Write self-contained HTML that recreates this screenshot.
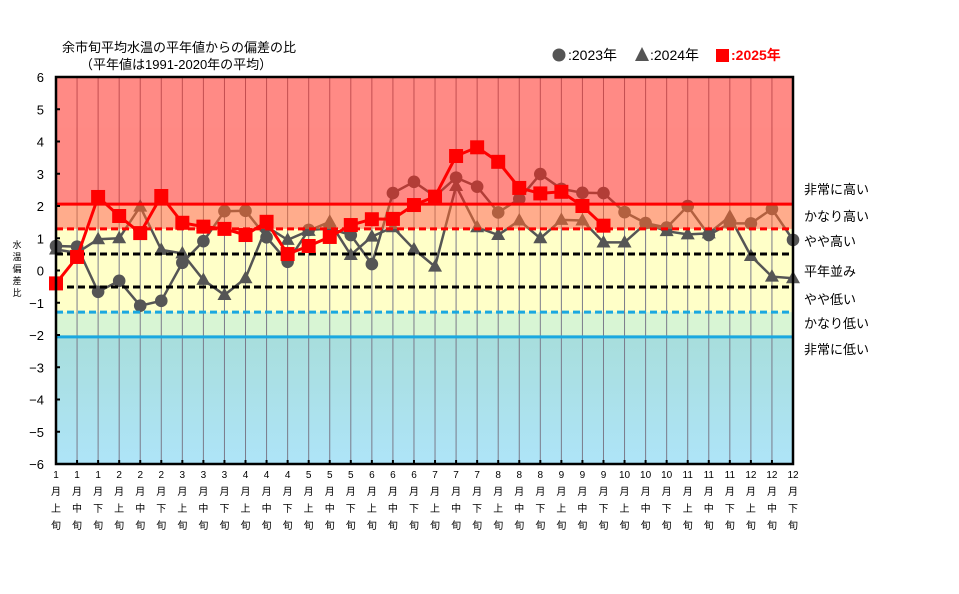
<!DOCTYPE html>
<html><head><meta charset="utf-8"><style>
html,body{margin:0;padding:0;background:#fff;}
svg{display:block;font-family:"Liberation Sans","Noto Sans CJK JP",sans-serif;}
</style></head><body>
<svg id="s" width="959" height="594" xmlns="http://www.w3.org/2000/svg">
<defs>
<linearGradient id="gb" x1="0" y1="0" x2="0" y2="1"><stop offset="0" stop-color="#a8dedc"/><stop offset="1" stop-color="#aee4f8"/></linearGradient>
</defs>
<g id="g"></g>
</svg>
<script>
var X0=56,X1=793,Y0=270.5,K=32.25,N=36,dx=(X1-X0)/35;
function y(v){return Y0-v*K}function x(i){return X0+i*dx}
var d23=[0.76,0.74,-0.66,-0.32,-1.09,-0.94,0.24,0.91,1.84,1.85,1.03,0.27,1.26,1.3,1.1,0.2,2.4,2.75,2.3,2.88,2.6,1.8,2.22,2.99,2.53,2.41,2.4,1.81,1.47,1.33,2.0,1.1,1.46,1.46,1.91,0.95];
var d24=[0.65,0.55,0.97,1.0,1.98,0.64,0.53,-0.29,-0.76,-0.24,1.36,0.95,1.23,1.51,0.48,1.05,1.34,0.66,0.12,2.62,1.34,1.1,1.55,1.0,1.57,1.55,0.87,0.87,1.45,1.22,1.12,1.15,1.67,0.45,-0.19,-0.24];
var d25=[-0.4,0.42,2.28,1.69,1.16,2.31,1.48,1.36,1.29,1.1,1.51,0.51,0.76,1.04,1.41,1.59,1.6,2.03,2.29,3.55,3.82,3.37,2.56,2.39,2.44,2.0,1.39];
var h='',w=X1-X0;
h+='<rect x="'+X0+'" y="'+y(6)+'" width="'+w+'" height="'+(y(-6)-y(6))+'" fill="#fff"/>';
h+='<rect x="'+X0+'" y="'+y(1.29)+'" width="'+w+'" height="'+(y(-1.29)-y(1.29))+'" fill="#ffffc8"/>';
h+='<rect x="'+X0+'" y="'+y(-1.29)+'" width="'+w+'" height="'+(y(-2.06)-y(-1.29))+'" fill="#d8f5d4"/>';
h+='<rect x="'+X0+'" y="'+y(-2.06)+'" width="'+w+'" height="'+(y(-6)-y(-2.06))+'" fill="url(#gb)"/>';
for(var i=1;i<35;i++)h+='<line x1="'+x(i)+'" y1="'+y(6)+'" x2="'+x(i)+'" y2="'+y(-6)+'" stroke="#7a7a8a" stroke-width="1"/>';
function pts(d){return d.map(function(v,i){return x(i).toFixed(1)+','+y(v).toFixed(1)}).join(' ')}
h+='<polyline points="'+pts(d23)+'" fill="none" stroke="#555" stroke-width="2.5"/>';
d23.forEach(function(v,i){h+='<circle cx="'+x(i)+'" cy="'+y(v)+'" r="6.3" fill="#555"/>'});
h+='<polyline points="'+pts(d24)+'" fill="none" stroke="#555" stroke-width="2.5"/>';
d24.forEach(function(v,i){var a=x(i),b=y(v);h+='<polygon points="'+a+','+(b-7.5)+' '+(a-7)+','+(b+5)+' '+(a+7)+','+(b+5)+'" fill="#555"/>'});
h+='<g opacity="0.55">';
h+='<rect x="'+X0+'" y="'+y(6)+'" width="'+w+'" height="'+(y(2.06)-y(6))+'" fill="#ff2a20"/>';
h+='<rect x="'+X0+'" y="'+y(2.06)+'" width="'+w+'" height="'+(y(1.29)-y(2.06))+'" fill="#ff6a30"/>';
h+='</g>';
h+='<line x1="'+X0+'" y1="'+y(2.06)+'" x2="'+X1+'" y2="'+y(2.06)+'" stroke="#f00" stroke-width="3"/>';
h+='<line x1="'+X0+'" y1="'+y(1.29)+'" x2="'+X1+'" y2="'+y(1.29)+'" stroke="#f00" stroke-width="3" stroke-dasharray="7,4"/>';
h+='<line x1="'+X0+'" y1="'+y(0.51)+'" x2="'+X1+'" y2="'+y(0.51)+'" stroke="#000" stroke-width="3" stroke-dasharray="7,4"/>';
h+='<line x1="'+X0+'" y1="'+y(-0.51)+'" x2="'+X1+'" y2="'+y(-0.51)+'" stroke="#000" stroke-width="3" stroke-dasharray="7,4"/>';
h+='<line x1="'+X0+'" y1="'+y(-1.29)+'" x2="'+X1+'" y2="'+y(-1.29)+'" stroke="#1aa8e0" stroke-width="3" stroke-dasharray="7,4"/>';
h+='<line x1="'+X0+'" y1="'+y(-2.06)+'" x2="'+X1+'" y2="'+y(-2.06)+'" stroke="#1aa8e0" stroke-width="3"/>';
h+='<polyline points="'+pts(d25)+'" fill="none" stroke="#f00" stroke-width="3"/>';
d25.forEach(function(v,i){h+='<rect x="'+(x(i)-7)+'" y="'+(y(v)-7)+'" width="14" height="14" fill="#f00"/>'});
h+='<rect x="'+X0+'" y="'+y(6)+'" width="'+w+'" height="'+(y(-6)-y(6))+'" fill="none" stroke="#000" stroke-width="2.5"/>';
for(var v=-6;v<=6;v++){h+='<line x1="'+X0+'" y1="'+y(v)+'" x2="'+(X0+4)+'" y2="'+y(v)+'" stroke="#000" stroke-width="2"/>';
h+='<text x="44" y="'+(y(v)+5)+'" font-size="13" text-anchor="end">'+(v<0?'−'+(-v):v)+'</text>';}
for(var i=0;i<N;i++){var m=Math.floor(i/3)+1,p=['上','中','下'][i%3],a=x(i);
h+='<line x1="'+a+'" y1="'+(y(-6)-4)+'" x2="'+a+'" y2="'+y(-6)+'" stroke="#000" stroke-width="2"/>';
h+='<g font-size="10" text-anchor="middle"><text x="'+a+'" y="478">'+m+'</text><text x="'+a+'" y="495">月</text><text x="'+a+'" y="512">'+p+'</text><text x="'+a+'" y="529">旬</text></g>';}
['水','温','偏','差','比'].forEach(function(c,k){h+='<text x="17" y="'+(248+k*12)+'" font-size="9" text-anchor="middle">'+c+'</text>'});
h+='<text x="62" y="52" font-size="13">余市旬平均水温の平年値からの偏差の比</text>';
h+='<text x="80" y="69" font-size="13">（平年値は1991-2020年の平均）</text>';
h+='<circle cx="559" cy="55" r="6.5" fill="#555"/><text x="568" y="60" font-size="14">:2023年</text>';
h+='<polygon points="642,47 635,61 649,61" fill="#555"/><text x="650" y="60" font-size="14">:2024年</text>';
h+='<rect x="716" y="49" width="13" height="13" fill="#f00"/><text x="731" y="60" font-size="14" fill="#f00" font-weight="bold">:2025年</text>';
var lab=[['非常に高い',194],['かなり高い',221],['やや高い',246],['平年並み',276],['やや低い',304],['かなり低い',328],['非常に低い',354]];
lab.forEach(function(l){h+='<text x="804" y="'+l[1]+'" font-size="13">'+l[0]+'</text>'});
document.getElementById('g').innerHTML=h;
</script>
</body></html>
